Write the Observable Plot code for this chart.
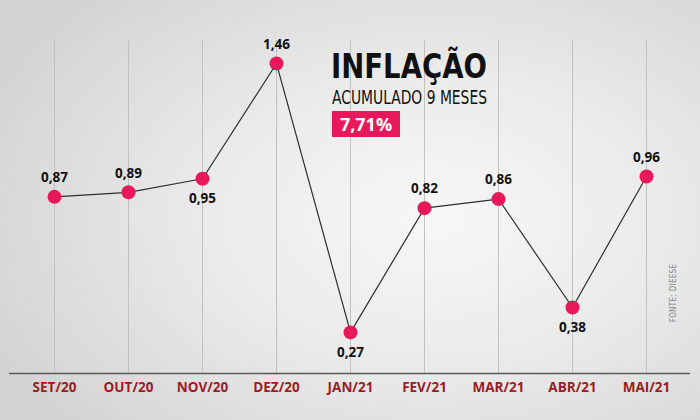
<!DOCTYPE html>
<html>
<head>
<meta charset="utf-8">
<script src="https://cdn.jsdelivr.net/npm/d3@7"></script>
<script src="https://cdn.jsdelivr.net/npm/@observablehq/plot@0.6"></script>
<style>
  html, body { margin: 0; padding: 0; }
  #wrap {
    position: relative; width: 700px; height: 420px; overflow: hidden;
    background: radial-gradient(ellipse 70% 75% at 62% 52%, #f7f7f7 0%, #ebebeb 45%, #d3d3d3 100%);
  }
  #wrap svg { position: absolute; left: 0; top: 0; }
  .title { position: absolute; left: 331px; top: 49px; font-family: "Liberation Sans Narrow", "DejaVu Sans Condensed", sans-serif; font-weight: 700; font-size: 34px; color: #111; line-height: 1; font-stretch: condensed; transform: scaleX(0.9); transform-origin: left top; white-space: nowrap; }
  .sub { position: absolute; left: 332px; top: 88px; font-family: "Liberation Sans Narrow", "DejaVu Sans Condensed", sans-serif; font-weight: 400; font-size: 19.5px; color: #111; line-height: 1; font-stretch: condensed; transform: scaleX(0.79); transform-origin: left top; white-space: nowrap; }
  .badge { position: absolute; left: 332px; top: 111px; width: 68px; height: 26px; background: #e8195b; color: #fff; font-family: "Open Sans", sans-serif; font-weight: 700; font-size: 18px; line-height: 26px; text-align: center; }
  .fonte { position: absolute; left: 673px; top: 293px; transform: translate(-50%, -50%) rotate(-90deg); font-family: "Liberation Sans Narrow", "DejaVu Sans Condensed", sans-serif; font-size: 8px; color: #888; white-space: nowrap; letter-spacing: 0.3px; }
</style>
</head>
<body>
<div id="wrap"></div>
<script>
const months = ["SET/20","OUT/20","NOV/20","DEZ/20","JAN/21","FEV/21","MAR/21","ABR/21","MAI/21"];
const values = [0.87, 0.89, 0.95, 1.46, 0.27, 0.82, 0.86, 0.38, 0.96];
const labelsBelow = ["NOV/20","JAN/21","ABR/21"];
const titleText = "INFLAÇÃO";
const subtitleText = "ACUMULADO 9 MESES";
const totalText = "7,71%";
const sourceText = "FONTE: DIEESE";

const data = months.map((m, i) => ({month: m, value: values[i], label: values[i].toFixed(2).replace(".", ","), below: labelsBelow.includes(m)}));
const yMin = 0.088, yMax = 1.562;

const chart = Plot.plot({
  width: 700, height: 420,
  marginTop: 40, marginBottom: 47, marginLeft: 9, marginRight: 10,
  style: {background: "transparent"},
  x: {type: "point", domain: months, padding: 0.578, label: null},
  y: {domain: [yMin, yMax], axis: null},
  marks: [
    Plot.gridX(months, {stroke: "#c2c2c2", strokeOpacity: 1, strokeWidth: 1}),
    Plot.ruleY([yMin], {stroke: "#5a5a5a", strokeWidth: 1.5}),
    Plot.axisX({tickSize: 0, tickPadding: 9, fontSize: 13.5, fontWeight: 700, fontFamily: "Open Sans, sans-serif", fill: "#9b1c24", label: null}),
    Plot.line(data, {x: "month", y: "value", stroke: "#2e2e2e", strokeWidth: 1.2}),
    Plot.dot(data, {x: "month", y: "value", r: 7, fill: "#e8195b", stroke: "none"}),
    Plot.text(data.filter(d => !d.below), {x: "month", y: "value", text: "label", dy: -19, fontSize: 13.5, fontWeight: 700, fontFamily: "Open Sans, sans-serif", fill: "#111"}),
    Plot.text(data.filter(d => d.below), {x: "month", y: "value", text: "label", dy: 20, fontSize: 13.5, fontWeight: 700, fontFamily: "Open Sans, sans-serif", fill: "#111"})
  ]
});

const wrap = document.getElementById("wrap");
wrap.appendChild(chart);
const add = (cls, txt) => { const d = document.createElement("div"); d.className = cls; d.textContent = txt; wrap.appendChild(d); };
add("title", titleText);
add("sub", subtitleText);
add("badge", totalText);
add("fonte", sourceText);
</script>
</body>
</html>
